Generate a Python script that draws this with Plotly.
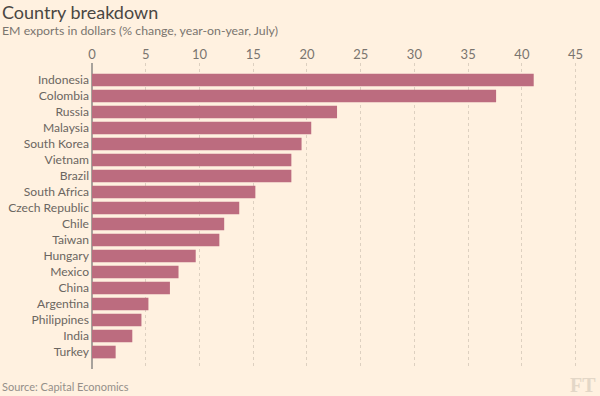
import plotly.graph_objects as go

countries = ["Indonesia", "Colombia", "Russia", "Malaysia", "South Korea", "Vietnam",
             "Brazil", "South Africa", "Czech Republic", "Chile", "Taiwan", "Hungary",
             "Mexico", "China", "Argentina", "Philippines", "India", "Turkey"]
values = [41.1, 37.6, 22.8, 20.4, 19.5, 18.55, 18.55, 15.2, 13.7, 12.3, 11.85,
          9.65, 8.05, 7.25, 5.25, 4.6, 3.75, 2.2]
x_ticks = [0, 5, 10, 15, 20, 25, 30, 35, 40, 45]

BG = "#fff1e0"
BAR = "#bc6c7f"
FONT = "Lato, Roboto, sans-serif"

L, T, W, H = 92.3, 63, 489, 306
def px(x):
    return (x - L) / W
def py(y):
    return (T + H - y) / H

fig = go.Figure(go.Bar(
    x=values, y=countries, orientation="h",
    marker=dict(color=BAR, line=dict(width=0)),
    width=0.79,
))

fig.update_layout(
    width=600, height=396,
    paper_bgcolor=BG, plot_bgcolor=BG,
    margin=dict(l=L, r=600 - L - W, t=T, b=396 - T - H, autoexpand=False),
    font=dict(family=FONT, color="#74736c", size=12),
    showlegend=False,
    xaxis=dict(
        side="top", range=[0, 45.5], tickvals=x_ticks,
        showgrid=True, gridcolor="#ddd0c0", griddash="dot", gridwidth=1,
        zeroline=True, zerolinecolor="#a7a29c", zerolinewidth=1.3,
        showline=False, ticks="", tickfont=dict(size=13, color="#7a756f"),
        fixedrange=True,
    ),
    yaxis=dict(
        categoryorder="array", categoryarray=countries,
        range=[18.06, -1.06], showgrid=False, zeroline=False, showline=False,
        ticks="", ticklabelstandoff=2, tickfont=dict(size=12.1, color="#6b6661"),
        fixedrange=True,
    ),
    annotations=[
        dict(text="Country breakdown", x=px(0), y=py(12), xref="paper", yref="paper",
             xanchor="left", yanchor="middle", showarrow=False,
             font=dict(size=18, color="#4a4743", family=FONT)),
        dict(text="EM exports in dollars (% change, year-on-year, July)", x=px(0), y=py(31),
             xref="paper", yref="paper", xanchor="left", yanchor="middle", showarrow=False,
             font=dict(size=12.3, color="#7a756f", family=FONT)),
        dict(text="Source: Capital Economics", x=px(0), y=py(386), xref="paper", yref="paper",
             xanchor="left", yanchor="middle", showarrow=False,
             font=dict(size=11, color="#948f89", family=FONT)),
        dict(text="<b>FT</b>", x=px(598), y=py(385), xref="paper", yref="paper",
             xanchor="right", yanchor="middle", showarrow=False,
             font=dict(size=20, color="#e3d7c7", family="Liberation Serif, DejaVu Serif, serif")),
    ],
)

fig.write_html("out.html", config={"displayModeBar": False, "staticPlot": True},
               post_script="document.body.style.margin='0';document.body.style.background='" + BG + "';")
